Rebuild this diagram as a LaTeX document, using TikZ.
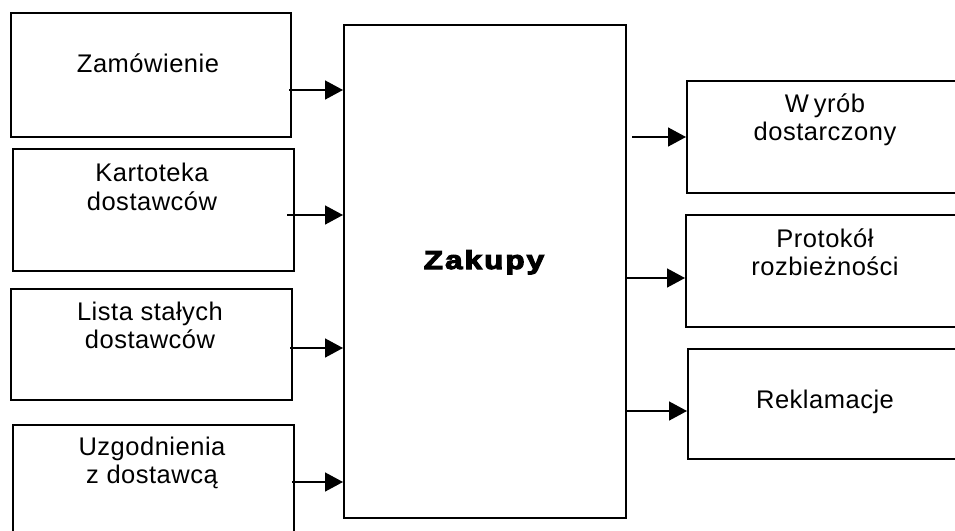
\documentclass[tikz,border=0pt]{standalone}
\usepackage{fontspec}
\setmainfont{Liberation Sans}[LetterSpace=2]
\usetikzlibrary{arrows.meta}
% two centred lines, baseline at the first line
\newcommand\twol[2]{\begin{tabular}[t]{@{}c@{}}#1\\#2\end{tabular}}
\begin{document}
\begin{tikzpicture}[x=1pt,y=-1pt,
  box/.style={draw, line width=1.5pt, anchor=north west, inner sep=0pt},
  lbl/.style={font=\fontsize{25.5}{28.5}\selectfont, inner sep=0pt, anchor=base},
  arr/.style={line width=1.5pt, -{Triangle[length=18pt,width=19pt]}}]
\useasboundingbox (0,0) rectangle (955,530);
\clip (0,0) rectangle (955,530);

% input documents
\node[box, minimum width=280pt, minimum height=124pt] (b1) at (10,12) {};
\node[box, minimum width=281pt, minimum height=122pt] (b2) at (12,148) {};
\node[box, minimum width=281pt, minimum height=111pt] (b3) at (10,288) {};
\node[box, minimum width=281pt, minimum height=130pt] (b4) at (12,424) {};

% process
\node[box, minimum width=282pt, minimum height=493pt] (c) at (343,24) {};

% output documents
\node[box, minimum width=290pt, minimum height=112pt] (r1) at (686,80) {};
\node[box, minimum width=290pt, minimum height=112pt] (r2) at (685,214) {};
\node[box, minimum width=290pt, minimum height=110pt] (r3) at (687,348) {};

% labels
\node[lbl] (l1) at (148,72) {Zamówienie};
\node[lbl] (l2) at (152,181.5) {\twol{Kartoteka}{dostawców}};
\node[lbl] (l3) at (150,320) {\twol{Lista stałych}{dostawców}};
\node[lbl] (l4) at (152,455) {\twol{Uzgodnienia}{z dostawcą}};
\node[lbl] (l5) at (825,112) {\twol{W\kern5pt yrób}{dostarczony}};
\node[lbl] (l6) at (825,247) {\twol{Protokół}{rozbieżności}};
\node[lbl] (l7) at (825,408) {Reklamacje};
\node[inner sep=0pt, anchor=base, xscale=1.2,
      font=\fontsize{26}{30}\bfseries\addfontfeature{FakeBold=4,LetterSpace=7}]
      (lc) at (484,269) {Zakupy};

% flows into the process
\coordinate (t1) at (289,90);
\coordinate (t2) at (287,215);
\coordinate (t3) at (290,348);
\coordinate (t4) at (292,482);
\draw[arr] (t1) -- (t1 -| c.west);
\draw[arr] (t2) -- (t2 -| c.west);
\draw[arr] (t3) -- (t3 -| c.west);
\draw[arr] (t4) -- (t4 -| c.west);

% flows out of the process
\coordinate (u1) at (632,137);
\coordinate (u2) at (625,278);
\coordinate (u3) at (625,411);
\draw[arr] (u1) -- (u1 -| r1.west);
\draw[arr] (u2) -- (u2 -| r2.west);
\draw[arr] (u3) -- (u3 -| r3.west);
\end{tikzpicture}
\end{document}
